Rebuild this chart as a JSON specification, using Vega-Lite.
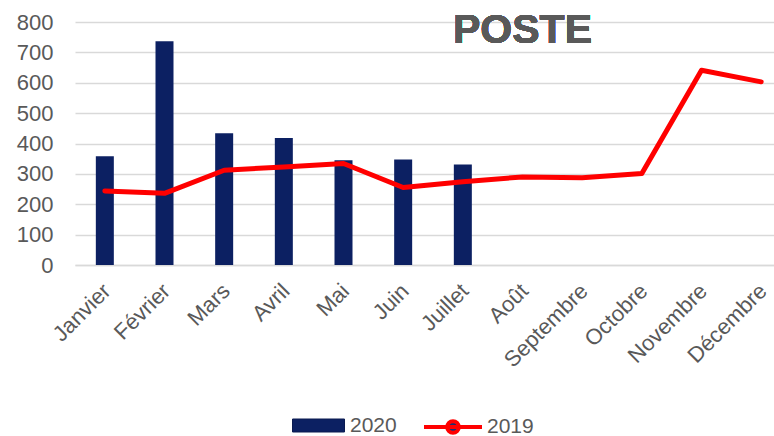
{
  "$schema": "https://vega.github.io/schema/vega-lite/v6.json",
  "width": 699,
  "height": 243,
  "autosize": {"type": "none"},
  "padding": {"left": 75, "top": 22, "right": 0, "bottom": 171},
  "background": "white",
  "config": {"view": {"stroke": null}, "font": "Liberation Sans",
    "axisY": {"tickCount": 12, "labelOverlap": false, "labelFontSize": 22, "labelColor": "#595959", "ticks": false, "domain": false, "labelPadding": 22, "gridColor": "#d9d9d9", "gridWidth": 1.5, "title": null}
  },
  "data": {"values": [
    {"mois": "Janvier", "y2020": 358, "y2019": 244},
    {"mois": "Février", "y2020": 737, "y2019": 236},
    {"mois": "Mars", "y2020": 434, "y2019": 312},
    {"mois": "Avril", "y2020": 418, "y2019": 323},
    {"mois": "Mai", "y2020": 345, "y2019": 334},
    {"mois": "Juin", "y2020": 347, "y2019": 255},
    {"mois": "Juillet", "y2020": 331, "y2019": 274},
    {"mois": "Août", "y2020": null, "y2019": 290},
    {"mois": "Septembre", "y2020": null, "y2019": 287},
    {"mois": "Octobre", "y2020": null, "y2019": 301},
    {"mois": "Novembre", "y2020": null, "y2019": 641},
    {"mois": "Décembre", "y2020": null, "y2019": 603}
  ]},
  "encoding": {
    "x": {"field": "mois", "type": "nominal", "sort": null,
      "scale": {"paddingInner": 0, "paddingOuter": 0, "range": [0, 716]},
      "axis": {"title": null, "labelAngle": -45, "labelAlign": "right", "labelBaseline": "top", "labelFontSize": 22, "labelColor": "#595959", "ticks": false, "labelPadding": 15, "labelOffset": -5, "labelOverlap": false, "domain": true, "domainColor": "#d9d9d9", "domainWidth": 1.5}
    }
  },
  "layer": [
    {
      "transform": [{"filter": "datum.y2020 != null"}],
      "mark": {"type": "bar", "width": 18},
      "encoding": {
        "y": {"field": "y2020", "type": "quantitative", "scale": {"domain": [0, 800]},
          "axis": {"title": null, "tickCount": 12, "values": [0,100,200,300,400,500,600,700,800]}
        },
        "fill": {"datum": "2020", "type": "nominal", "scale": {"domain": ["2020"], "range": ["#0c2062"]},
          "legend": {"title": null, "orient": "none", "legendX": 217, "legendY": 377, "symbolType": "M-1,-0.25H1V0.25H-1Z", "symbolSize": 2704, "symbolStrokeColor": "#0a1a50", "symbolStrokeWidth": 1, "labelFontSize": 21, "labelColor": "#595959", "labelOffset": 5, "padding": 0}
        }
      }
    },
    {
      "mark": {"type": "line", "strokeWidth": 5, "strokeJoin": "round", "strokeCap": "round"},
      "encoding": {
        "y": {"field": "y2019", "type": "quantitative"},
        "stroke": {"datum": "2019", "type": "nominal", "scale": {"domain": ["2019"], "range": ["#ff0000"]},
          "legend": {"title": null, "orient": "none", "legendX": 347, "legendY": 374, "symbolType": "M-1,0H1M0.2,0A0.2,0.2 0 1,1 -0.2,0A0.2,0.2 0 1,1 0.2,0", "symbolSize": 3364, "symbolStrokeWidth": 4, "symbolFillColor": "#1a2f70", "labelFontSize": 21, "labelColor": "#595959", "labelOffset": 3, "padding": 0}
        }
      }
    },
    {
      "mark": {"type": "text", "text": "POSTE", "fontSize": 41, "fontWeight": "bold", "fill": "#595959", "strokeWidth": 0, "font": "Liberation Sans", "align": "center", "baseline": "alphabetic"},
      "encoding": {
        "x": {"datum": "Août"},
        "y": {"datum": 731, "type": "quantitative"}
      }
    }
  ]
}
